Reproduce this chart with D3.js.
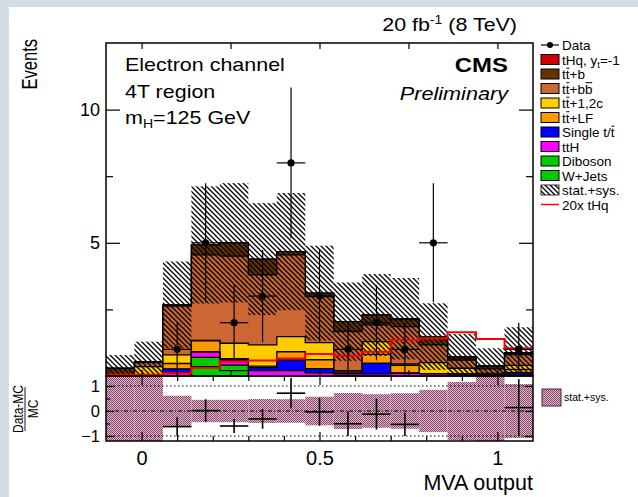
<!DOCTYPE html>
<html><head><meta charset="utf-8">
<script src="https://cdn.jsdelivr.net/npm/d3@7"></script>
<style>
html,body{margin:0;padding:0;background:#fff;}
svg{display:block;font-family:"Liberation Sans",Arial,Helvetica,sans-serif;}
</style></head><body>
<svg id="c" width="638" height="497"></svg>
<script>
// MVA output binning (15 bins)
const binEdges = [-0.1,-0.02,0.06,0.14,0.22,0.30,0.38,0.46,0.54,0.62,0.70,0.78,0.86,0.94,1.02,1.10];

// expected events per bin, stacked from bottom to top
const wJets     = [0,0,0,0.35,0.20,0,0,0,0,0,0,0,0,0,0];
const diboson   = [0,0,0,0.35,0.21,0,0,0,0,0,0,0,0,0,0];
const ttH       = [0,0,0.12,0.20,0.19,0.20,0.20,0.12,0.08,0.08,0.10,0.08,0.07,0.03,0.03];
const singleTop = [0,0.02,0.15,0,0.02,0.12,0.40,0.16,0.02,0.40,0.02,0,0,0,0.10];
const ttLF      = [0,0.02,0.20,0.42,0.03,0.05,0.31,0.33,0.05,0.33,0.28,0,0.02,0.05,0.12];
const ttCC      = [0,0.31,0.32,0.02,0.58,0.80,0.57,0.64,0.05,0.48,0.05,0.42,0.20,0.02,0.15];
const ttBB      = [0.02,0.15,1.83,3.21,3.27,2.63,3.07,1.73,1.47,0.63,1.40,0.67,0.31,0.17,0.40];
const ttB       = [0.27,0.04,0.05,0.37,0.50,0.59,0.12,0.13,0.37,0.37,0.27,0.29,0.08,0.08,0.05];
const tHqYtm1   = [0,0,0,0,0,0,0,0,0,0,0.03,0.02,0.05,0.04,0.03];

// total stat.+sys. uncertainty on the expectation
const totalErr  = [0.50,0.75,1.63,2.20,2.24,2.10,2.20,1.78,1.47,1.54,1.53,1.25,0.85,0.65,0.95];
// observed events
const dataEvents = [0,0,1,5,2,3,8,3,1,2,1,5,0,0,1];
// signal shape scaled by 20
const tHq20x    = [0.05,0.05,0.10,0.31,0.54,0.58,0.66,0.83,0.76,0.91,1.35,1.42,1.64,1.39,1.04];

const yTicksMain = [5,10];
const yMinorMain = [2.5,7.5];
const xTicksTop  = [0,0.25,0.5,0.75,1];
const xTicksRatio = [0,0.5,1];
const xMinorRatio = [0.1,0.2,0.3,0.4,0.6,0.7,0.8,0.9];
const yTicksRatio = [-1,0,1];
const yMinorRatio = [-0.5,0.5];

// label text plus indices of characters that carry an anti-particle bar
const layers = [
  {label:"W+Jets",     bars:[],    color:"#00cc00", values:wJets},
  {label:"Diboson",    bars:[],    color:"#00cc00", values:diboson},
  {label:"ttH",        bars:[],    color:"#ff00ff", values:ttH},
  {label:"Single t/t", bars:[9],   color:"#0000ff", values:singleTop},
  {label:"tt+LF",      bars:[1],   color:"#ff9900", values:ttLF},
  {label:"tt+1,2c",    bars:[1],   color:"#ffcc00", values:ttCC},
  {label:"tt+bb",      bars:[1,4], color:"#cc6633", values:ttBB},
  {label:"tt+b",       bars:[1],   color:"#663300", values:ttB},
  {label:"tHq",        bars:[],    color:"#cc0000", values:tHqYtm1}
];

const svg = d3.select("#c");
const W = 638, H = 497;
const L = 106, R = 533, T = 43, B = 376, RB = 441;

const x  = d3.scaleLinear().domain([-0.1,1.1]).range([L,R]);
const y  = d3.scaleLinear().domain([0,12.5]).range([B,T]);
const yr = d3.scaleLinear().domain([-1.2,1.4]).range([RB,B]);

// page background
svg.append("rect").attr("width",W).attr("height",H).attr("fill","#d3dde3");
svg.append("rect").attr("x",9).attr("y",7).attr("width",W-9).attr("height",H-7).attr("fill","#fff");

const defs = svg.append("defs");
defs.append("clipPath").attr("id","clipMain").append("rect")
  .attr("x",L).attr("y",T).attr("width",R-L).attr("height",B-T);
defs.append("clipPath").attr("id","clipRatio").append("rect")
  .attr("x",L).attr("y",B).attr("width",R-L).attr("height",RB-B);

// diagonal hatch for the uncertainty band
const hatch = defs.append("pattern").attr("id","hatch").attr("patternUnits","userSpaceOnUse")
  .attr("width",5).attr("height",5);
hatch.append("path").attr("d","M-1,-1 L6,6 M-1,4 L1,6 M4,-1 L6,1")
  .attr("stroke","#000").attr("stroke-width",1.3);

const checker = defs.append("pattern").attr("id","checker").attr("patternUnits","userSpaceOnUse")
  .attr("width",2).attr("height",2);
checker.append("rect").attr("width",2).attr("height",2).attr("fill","#dcbccc");
checker.append("rect").attr("width",1).attr("height",1).attr("fill","#8a4468");
checker.append("rect").attr("x",1).attr("y",1).attr("width",1).attr("height",1).attr("fill","#8a4468");

const nb = binEdges.length - 1;
const centers = d3.range(nb).map(i => (binEdges[i]+binEdges[i+1])/2);

// cumulative stack
const cum = [];
let run = new Array(nb).fill(0);
layers.forEach(l => { run = run.map((v,i) => v + l.values[i]); cum.push(run.slice()); });
const total = cum[cum.length-1];

function stepPts(vals){
  const p = [];
  vals.forEach((v,i) => { p.push([binEdges[i],v]); p.push([binEdges[i+1],v]); });
  return p;
}
const area = d3.area().x(d => x(d[0])).y0(y(0)).y1(d => y(d[1]));
const line = d3.line().x(d => x(d[0])).y(d => y(d[1]));

const gMain = svg.append("g").attr("clip-path","url(#clipMain)");
for (let k = layers.length-1; k >= 0; k--) {
  const pts = stepPts(cum[k]);
  gMain.append("path").attr("d", area(pts)).attr("fill", layers[k].color);
  gMain.append("path").attr("d", line([[binEdges[0],0], ...pts, [binEdges[nb],0]]))
    .attr("fill","none").attr("stroke","#000").attr("stroke-width",1.3);
}

// stat.+sys. band
gMain.selectAll("rect.band").data(d3.range(nb)).join("rect")
  .attr("x", i => x(binEdges[i])).attr("width", i => x(binEdges[i+1]) - x(binEdges[i]))
  .attr("y", i => y(total[i] + totalErr[i]))
  .attr("height", i => y(Math.max(0,total[i]-totalErr[i])) - y(total[i]+totalErr[i]))
  .attr("fill","url(#hatch)");

// 20x tHq
gMain.append("path").attr("d", line(stepPts(tHq20x)))
  .attr("fill","none").attr("stroke","#ff0000").attr("stroke-width",2);

// data points
const dg = gMain.append("g");
d3.range(nb).filter(i => dataEvents[i] > 0).forEach(i => {
  const n = dataEvents[i], e = Math.sqrt(n);
  dg.append("line").attr("x1", x(centers[i])).attr("x2", x(centers[i]))
    .attr("y1", y(n+e)).attr("y2", y(n-e)).attr("stroke","#000").attr("stroke-width",1.2);
  dg.append("line").attr("x1", x(binEdges[i])).attr("x2", x(binEdges[i+1]))
    .attr("y1", y(n)).attr("y2", y(n)).attr("stroke","#000").attr("stroke-width",1.2);
  dg.append("circle").attr("cx", x(centers[i])).attr("cy", y(n)).attr("r",3.6).attr("fill","#000");
});

// ratio panel
const gRatio = svg.append("g").attr("clip-path","url(#clipRatio)");
gRatio.selectAll("rect.rb").data(d3.range(nb)).join("rect")
  .attr("x", i => x(binEdges[i])).attr("width", i => x(binEdges[i+1]) - x(binEdges[i]))
  .attr("y", i => yr(totalErr[i]/total[i]))
  .attr("height", i => yr(-totalErr[i]/total[i]) - yr(totalErr[i]/total[i]))
  .attr("fill","url(#checker)");
[1,-1].forEach(v => gRatio.append("line").attr("x1",L).attr("x2",R).attr("y1",yr(v)).attr("y2",yr(v))
  .attr("stroke","#000").attr("stroke-width",1).attr("stroke-dasharray","1.5,2.5"));
gRatio.append("line").attr("x1",L).attr("x2",R).attr("y1",yr(0)).attr("y2",yr(0))
  .attr("stroke","#000").attr("stroke-width",1).attr("stroke-dasharray","4,2,1,2");
d3.range(nb).filter(i => dataEvents[i] > 0).forEach(i => {
  const n = dataEvents[i], e = Math.sqrt(n), mc = total[i];
  const r = n/mc - 1;
  if (r > 1.4 || r < -1.2) return;
  gRatio.append("line").attr("x1", x(centers[i])).attr("x2", x(centers[i]))
    .attr("y1", yr((n+e)/mc-1)).attr("y2", yr((n-e)/mc-1)).attr("stroke","#000").attr("stroke-width",1.6);
  gRatio.append("line").attr("x1", x(binEdges[i])).attr("x2", x(binEdges[i+1]))
    .attr("y1", yr(r)).attr("y2", yr(r)).attr("stroke","#000").attr("stroke-width",1.6);
});

// axes
function styleAxis(g, size){
  g.attr("font-family", null).attr("font-size", size);
  g.select(".domain").remove();
  g.selectAll(".tick line").attr("stroke","#000").attr("stroke-width",1.2);
  g.selectAll(".tick text").attr("fill","#000");
}
styleAxis(svg.append("g").attr("transform",`translate(${L},0)`)
  .call(d3.axisLeft(y).tickValues(yTicksMain).tickSizeInner(-14).tickSizeOuter(0).tickPadding(6)), 18);
styleAxis(svg.append("g").attr("transform",`translate(${L},0)`)
  .call(d3.axisLeft(y).tickValues(yMinorMain).tickSizeInner(-7).tickSizeOuter(0).tickFormat("")), 18);
styleAxis(svg.append("g").attr("transform",`translate(${R},0)`)
  .call(d3.axisRight(y).tickValues(yTicksMain).tickSizeInner(-14).tickSizeOuter(0).tickFormat("")), 18);
styleAxis(svg.append("g").attr("transform",`translate(${R},0)`)
  .call(d3.axisRight(y).tickValues(yMinorMain).tickSizeInner(-7).tickSizeOuter(0).tickFormat("")), 18);
styleAxis(svg.append("g").attr("transform",`translate(0,${T})`)
  .call(d3.axisTop(x).tickValues(xTicksTop).tickSizeInner(-6).tickSizeOuter(0).tickFormat("")), 18);
styleAxis(svg.append("g").attr("transform",`translate(0,${B})`)
  .call(d3.axisBottom(x).tickValues(xTicksTop).tickSizeInner(-6).tickSizeOuter(0).tickFormat("")), 18);
// ratio axes
styleAxis(svg.append("g").attr("transform",`translate(0,${RB})`)
  .call(d3.axisBottom(x).tickValues(xTicksRatio).tickSizeInner(-9).tickSizeOuter(0).tickPadding(10)
  .tickFormat(d3.format("~g"))), 20);
styleAxis(svg.append("g").attr("transform",`translate(0,${RB})`)
  .call(d3.axisBottom(x).tickValues(xMinorRatio).tickSizeInner(-5).tickSizeOuter(0).tickFormat("")), 20);
styleAxis(svg.append("g").attr("transform",`translate(0,${B})`)
  .call(d3.axisTop(x).tickValues(xTicksRatio).tickSizeInner(-9).tickSizeOuter(0).tickFormat("")), 20);
styleAxis(svg.append("g").attr("transform",`translate(0,${B})`)
  .call(d3.axisTop(x).tickValues(xMinorRatio).tickSizeInner(-5).tickSizeOuter(0).tickFormat("")), 20);
styleAxis(svg.append("g").attr("transform",`translate(${L},0)`)
  .call(d3.axisLeft(yr).tickValues(yTicksRatio).tickSizeInner(-8).tickSizeOuter(0).tickPadding(6)
  .tickFormat(d3.format("d"))), 16.5);
styleAxis(svg.append("g").attr("transform",`translate(${L},0)`)
  .call(d3.axisLeft(yr).tickValues(yMinorRatio).tickSizeInner(-4).tickSizeOuter(0).tickFormat("")), 16);
styleAxis(svg.append("g").attr("transform",`translate(${R},0)`)
  .call(d3.axisRight(yr).tickValues(yTicksRatio).tickSizeInner(-8).tickSizeOuter(0).tickFormat("")), 16);

// frames
svg.append("rect").attr("x",L).attr("y",T).attr("width",R-L).attr("height",B-T)
  .attr("fill","none").attr("stroke","#000").attr("stroke-width",1.5);
svg.append("rect").attr("x",L).attr("y",B).attr("width",R-L).attr("height",RB-B)
  .attr("fill","none").attr("stroke","#000").attr("stroke-width",1.5);

// text placed with a slight horizontal widening
function wideText(px, py, anchor, sx, size){
  return svg.append("g").attr("transform",`translate(${px},${py}) scale(${sx},1)`)
    .append("text").attr("text-anchor",anchor).attr("font-size",size);
}

const lumi = wideText(517, 31, "end", 1.16, 18.5);
lumi.append("tspan").text("20 fb");
lumi.append("tspan").attr("dy",-7).attr("font-size",12).text("-1");
lumi.append("tspan").attr("dy",7).text(" (8 TeV)");

wideText(508, 72, "end", 1.14, 21).attr("font-weight","bold").text("CMS");
wideText(508, 100, "end", 1.14, 19).attr("font-style","italic").text("Preliminary");

wideText(125, 71, "start", 1.13, 19).text("Electron channel");
wideText(125, 98, "start", 1.13, 19).text("4T region");
const mh = wideText(125, 124, "start", 1.13, 19);
mh.append("tspan").text("m");
mh.append("tspan").attr("dy",4).attr("font-size",12.5).text("H");
mh.append("tspan").attr("dy",-4).text("=125 GeV");

// rotated titles, widened across the reading direction
svg.append("g").attr("transform","translate(37,39) scale(1.3,1) rotate(-90)")
  .append("text").attr("text-anchor","end").attr("font-size",16.5).text("Events");
svg.append("text").attr("x",533).attr("y",490).attr("text-anchor","end")
  .attr("font-size",21.5).text("MVA output");

const rl = svg.append("g").attr("transform","translate(25,409) scale(1.25,1) rotate(-90)");
rl.append("text").attr("y",-2).attr("text-anchor","middle").attr("font-size",12).text("Data-MC");
rl.append("line").attr("x1",-22).attr("x2",22).attr("y1",0).attr("y2",0).attr("stroke","#000").attr("stroke-width",0.8);
rl.append("text").attr("y",10.5).attr("text-anchor","middle").attr("font-size",12).text("MC");

// legend
const lgX = 541, lgT = 45, lgStep = 14.5, lgFont = 13.5;
const leg = svg.append("g");
leg.append("line").attr("x1",lgX).attr("x2",lgX+18).attr("y1",lgT).attr("y2",lgT).attr("stroke","#000").attr("stroke-width",1.2);
leg.append("circle").attr("cx",lgX+9).attr("cy",lgT).attr("r",3).attr("fill","#000");
leg.append("text").attr("x",lgX+21).attr("y",lgT+5).attr("font-size",lgFont).text("Data");
const legOrder = layers.slice().reverse();
legOrder.forEach((l,j) => {
  const cy = lgT + lgStep*(j+1);
  leg.append("rect").attr("x",lgX).attr("y",cy-5).attr("width",18).attr("height",10)
    .attr("fill",l.color).attr("stroke","#000").attr("stroke-width",1);
  const t = leg.append("text").attr("x",lgX+21).attr("y",cy+5).attr("font-size",lgFont);
  if (l.label === "tHq") {
    t.append("tspan").text("tHq, y");
    t.append("tspan").attr("dy",3).attr("font-size",9.5).text("t");
    t.append("tspan").attr("dy",-3).text("=-1");
  } else {
    t.text(l.label);
    const node = t.node();
    l.bars.forEach(ci => {
      const s = node.getStartPositionOfChar(ci), e = node.getEndPositionOfChar(ci);
      leg.append("line").attr("x1", s.x + 0.6).attr("x2", e.x - 0.2)
        .attr("y1", cy + 5 - 0.8*lgFont).attr("y2", cy + 5 - 0.8*lgFont)
        .attr("stroke","#000").attr("stroke-width",1);
    });
  }
});
const jb = layers.length + 1;
leg.append("rect").attr("x",lgX).attr("y",lgT+lgStep*jb-5).attr("width",18).attr("height",10)
  .attr("fill","url(#hatch)").attr("stroke","#000").attr("stroke-width",0.8);
leg.append("text").attr("x",lgX+21).attr("y",lgT+lgStep*jb+5).attr("font-size",lgFont).text("stat.+sys.");
leg.append("line").attr("x1",lgX).attr("x2",lgX+18).attr("y1",lgT+lgStep*(jb+1)).attr("y2",lgT+lgStep*(jb+1))
  .attr("stroke","#ff0000").attr("stroke-width",1.5);
leg.append("text").attr("x",lgX+21).attr("y",lgT+lgStep*(jb+1)+5).attr("font-size",lgFont).text("20x tHq");

// ratio legend
svg.append("rect").attr("x",542).attr("y",389).attr("width",19).attr("height",17)
  .attr("fill","url(#checker)").attr("stroke","#5a1a3a").attr("stroke-width",1);
svg.append("text").attr("x",564).attr("y",401).attr("font-size",10.5).text("stat.+sys.");
</script>
</body></html>
